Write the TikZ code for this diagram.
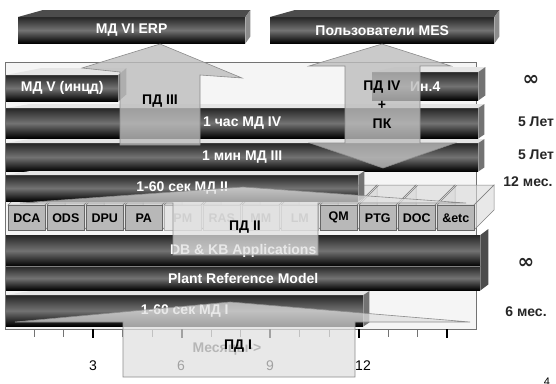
\documentclass[tikz,border=0pt]{standalone}
\usepackage{fontspec}
\setmainfont{Liberation Sans}
\newfontfamily\symfont{DejaVu Sans}
\usetikzlibrary{calc}
\newcommand\boxfaces[6]{%
  \fill[#5] (#1.north west) -- ++(#2,-#4) -- ($(#1.north east)+(#3,-#4)$) -- (#1.north east) -- cycle;
  \fill[#6] (#1.north east) -- ++(#3,-#4) -- ($(#1.south east)+(#3,-#4)$) -- (#1.south east) -- cycle;}
\begin{document}
\begin{tikzpicture}[x=1pt,y=-1pt,
  darkbar/.style={rectangle, inner sep=0pt, anchor=north west, top color=black!85, bottom color=black, middle color=black!55, text=white, font=\bfseries\fontsize{14}{16}\selectfont},
  topface/.style={fill=black!10},
  sideface/.style={fill=black!55},
  hitop/.style={fill=black!70},
  hiside/.style={fill=black!45},
  module/.style={rectangle, inner sep=0pt, anchor=north west, minimum width=37, minimum height=25, fill=black!28, draw=black!60, line width=0.6pt, font=\bfseries\fontsize{12.5}{14}\selectfont},
  faded/.style={fill=black!10, draw=black!30, text=black!35},
  modface/.style={fill=black!15, fill opacity=0.6, draw=black!50, line width=0.5pt},
  pdarrow/.style={fill=black!12, fill opacity=0.72, draw=black!45, line width=0.6pt},
  pddark/.style={fill=black!26, fill opacity=0.8, draw=black!45, line width=0.6pt},
  pdlabel/.style={font=\bfseries\fontsize{14}{16}\selectfont, text=black},
  rlabel/.style={font=\bfseries\fontsize{14}{16}\selectfont, text=black!85},
  inflabel/.style={font=\symfont\bfseries\fontsize{20}{20}\selectfont, text=black!85},
  numlabel/.style={font=\fontsize{14}{16}\selectfont, text=black}]
\useasboundingbox (0,0) rectangle (556,383);
\fill[white] (0,0) rectangle (556,383);

% top boxes
\node[darkbar, minimum width=227, minimum height=26] (erp) at (18,17) {МД VI ERP};
\boxfaces{erp}{25}{5}{7}{hitop}{hiside}
\node[darkbar, minimum width=224, minimum height=26] (mes) at (270,17) {Пользователи MES};
\boxfaces{mes}{25}{5}{7}{hitop}{hiside}

% frame
\node[rectangle, anchor=north west, inner sep=0pt, minimum width=471, minimum height=267, draw=black!55, fill=black!4] (frame) at (5,62) {};

% row A
\node[darkbar, minimum width=112, minimum height=26] (md5) at (6,75) {МД V (инцд)};
\boxfaces{md5}{36}{8}{7}{topface}{sideface}
\node[darkbar, minimum width=106, minimum height=28] (in4) at (372,72) {Ин.4};
\boxfaces{in4}{24}{7}{5}{topface}{sideface}

% row B, C
\node[darkbar, minimum width=472, minimum height=30] (md4) at (6,108) {1 час МД IV};
\boxfaces{md4}{24}{6}{4}{topface}{sideface}
\node[darkbar, minimum width=472, minimum height=28] (md3) at (6,143) {1 мин МД III};
\boxfaces{md3}{24}{6}{4}{topface}{sideface}

% modules
\foreach \t [count=\i] in {DCA,ODS,DPU,PA,PM,RAS,MM,LM,QM,PTG,DOC,\&etc} {
  \pgfmathsetmacro\mx{8+39*(\i-1)}
  \draw[modface] (\mx,205) -- ++(20,-20) -- ++(37,0) -- ++(-20,20) -- cycle;
  \draw[modface] (\mx+37,205) -- ++(20,-20) -- ++(0,25) -- ++(-20,20) -- cycle;
  \ifnum\i>4 \ifnum\i<9
    \node[module, faded] (mod\i) at (\mx,205) {\t};
  \else
    \node[module] (mod\i) at (\mx,205) {\t};
  \fi\else
    \node[module] (mod\i) at (\mx,205) {\t};
  \fi
}

% row D
\node[darkbar, minimum width=352, minimum height=26] (md2) at (6,175) {1-60 сек МД II};
\boxfaces{md2}{24}{6}{4}{topface}{sideface}

% DB & KB block
\node[darkbar, minimum width=474, minimum height=31] (dbkb) at (6,235) {DB \& KB Applications};
\node[darkbar, minimum width=474, minimum height=24] (prm) at (6,266) {Plant Reference Model};
\fill[black!70] (dbkb.north east) -- ++(8,-6) -- ($(prm.south east)+(8,-6)$) -- (prm.south east) -- cycle;
\draw[black!50, line width=0.6pt] (dbkb.south west) -- (dbkb.south east);

% row E
\node[darkbar, minimum width=357, minimum height=31] (md1) at (6,295) {1-60 сек МД I};
\boxfaces{md1}{24}{6}{4}{topface}{sideface}

% axis ticks
\foreach \m in {1,...,15} {
  \pgfmathsetmacro\tx{4.5+29.5*\m}
  \draw[black!55, line width=0.7pt] (\tx,329) -- (\tx,337);
}
\foreach \m in {3,6,9,12,15} {
  \pgfmathsetmacro\tx{4.5+29.5*\m}
  \draw[black, line width=2pt] (\tx,329) -- (\tx,338);
}
\node[numlabel] (n3) at (93,366) {3};
\node[numlabel] (n6) at (181,366) {6};
\node[numlabel] (n9) at (270,366) {9};
\node[numlabel] (n12) at (363,366) {12};
\node[font=\bfseries\fontsize{14}{16}\selectfont, text=black!70] (months) at (227,349) {Месяцы->};

% PD overlays
\draw[pddark] (120,145) -- (120,72) -- (82,68) -- (160,44) -- (242,78) -- (200,75) -- (200,145) -- cycle;
\draw[pddark] (345,66) -- (309,66) -- (382,44) -- (451,66) -- (420,66) -- (420,143) -- (455,143) -- (383,168) -- (310,143) -- (345,143) -- cycle;
\draw[pdarrow] (173,255) -- (173,203) -- (20,203) -- (243,187) -- (466,203) -- (318,203) -- (318,255) -- cycle;
\draw[pdarrow] (123,377) -- (123,322) -- (15,322) -- (230,302) -- (470,322) -- (355,322) -- (355,377) -- cycle;

% PD labels
\node[pdlabel] (pd3) at (160,101) {ПД III};
\node[pdlabel] (pd4) at (382,87) {ПД IV};
\node[pdlabel] (plus) at (382,105) {+};
\node[pdlabel] (pk) at (382,124) {ПК};
\node[pdlabel] (pd2) at (245,227) {ПД II};
\node[pdlabel] (pd1) at (238,346) {ПД I};

% right labels
\node[inflabel] (r1) at (531,80) {∞};
\node[rlabel] (r2) at (536,122) {5 Лет};
\node[rlabel] (r3) at (536,155) {5 Лет};
\node[rlabel] (r4) at (528,182) {12 мес.};
\node[inflabel] (r5) at (526,263) {∞};
\node[rlabel] (r6) at (526,312) {6 мес.};
\node[font=\fontsize{11}{12}\selectfont, anchor=north] (pg) at (547,374) {4};
\end{tikzpicture}
\end{document}
